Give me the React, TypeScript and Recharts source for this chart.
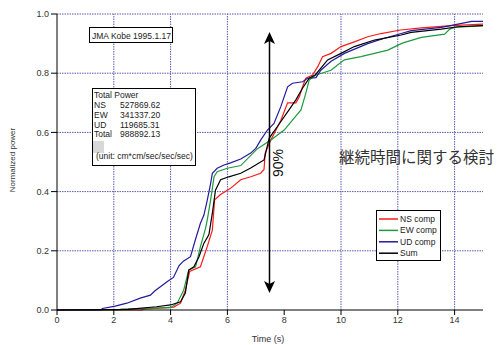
import React from 'react';
import { LineChart, Line, XAxis, YAxis, ReferenceLine } from 'recharts';

// Cumulative normalized power vs. time
const nsComp = [
  { t: 0, p: 0 }, { t: 3.0, p: 0 }, { t: 3.05, p: 0.003 }, { t: 4.11, p: 0.01 },
  { t: 4.35, p: 0.023 }, { t: 4.52, p: 0.067 }, { t: 4.67, p: 0.13 }, { t: 5.05, p: 0.146 },
  { t: 5.29, p: 0.214 }, { t: 5.47, p: 0.27 }, { t: 5.55, p: 0.372 }, { t: 5.76, p: 0.39 },
  { t: 6.11, p: 0.411 }, { t: 6.47, p: 0.44 }, { t: 6.82, p: 0.45 }, { t: 7.17, p: 0.462 },
  { t: 7.29, p: 0.475 }, { t: 7.33, p: 0.53 }, { t: 7.53, p: 0.574 }, { t: 7.88, p: 0.64 },
  { t: 8.12, p: 0.7 }, { t: 8.41, p: 0.7 }, { t: 8.53, p: 0.72 }, { t: 8.65, p: 0.755 },
  { t: 8.76, p: 0.783 }, { t: 9.0, p: 0.794 }, { t: 9.18, p: 0.822 }, { t: 9.35, p: 0.856 },
  { t: 9.65, p: 0.867 }, { t: 10.0, p: 0.89 }, { t: 10.47, p: 0.906 }, { t: 10.94, p: 0.923 },
  { t: 11.41, p: 0.934 }, { t: 12.1, p: 0.946 }, { t: 12.83, p: 0.953 }, { t: 13.9, p: 0.961 },
  { t: 15, p: 0.966 },
];

const ewComp = [
  { t: 0, p: 0 }, { t: 2.2, p: 0 }, { t: 2.25, p: 0.003 }, { t: 4.0, p: 0.008 },
  { t: 4.23, p: 0.023 }, { t: 4.46, p: 0.067 }, { t: 4.64, p: 0.135 }, { t: 4.88, p: 0.146 },
  { t: 5.05, p: 0.214 }, { t: 5.23, p: 0.276 }, { t: 5.29, p: 0.304 }, { t: 5.41, p: 0.372 },
  { t: 5.53, p: 0.45 }, { t: 5.64, p: 0.467 }, { t: 6.0, p: 0.479 }, { t: 6.47, p: 0.488 },
  { t: 7.06, p: 0.545 }, { t: 7.53, p: 0.574 }, { t: 8.0, p: 0.608 }, { t: 8.35, p: 0.648 },
  { t: 8.59, p: 0.676 }, { t: 8.76, p: 0.732 }, { t: 8.88, p: 0.777 }, { t: 9.12, p: 0.794 },
  { t: 9.65, p: 0.81 }, { t: 9.88, p: 0.828 }, { t: 10.12, p: 0.845 }, { t: 10.7, p: 0.856 },
  { t: 11.18, p: 0.867 }, { t: 11.65, p: 0.878 }, { t: 12.12, p: 0.9 }, { t: 12.24, p: 0.904 },
  { t: 12.83, p: 0.921 }, { t: 13.65, p: 0.932 }, { t: 13.83, p: 0.949 }, { t: 14.0, p: 0.955 },
  { t: 15, p: 0.961 },
];

const udComp = [
  { t: 0, p: 0 }, { t: 1.55, p: 0 }, { t: 1.6, p: 0.005 }, { t: 2.05, p: 0.013 },
  { t: 2.46, p: 0.023 }, { t: 2.93, p: 0.04 }, { t: 3.29, p: 0.05 }, { t: 3.45, p: 0.065 },
  { t: 3.9, p: 0.097 }, { t: 4.1, p: 0.11 }, { t: 4.3, p: 0.15 }, { t: 4.45, p: 0.165 },
  { t: 4.7, p: 0.18 }, { t: 4.88, p: 0.24 }, { t: 5.05, p: 0.293 }, { t: 5.17, p: 0.32 },
  { t: 5.29, p: 0.37 }, { t: 5.41, p: 0.428 }, { t: 5.47, p: 0.462 }, { t: 5.64, p: 0.479 },
  { t: 5.88, p: 0.49 }, { t: 6.11, p: 0.497 }, { t: 6.47, p: 0.51 }, { t: 6.82, p: 0.53 },
  { t: 7.0, p: 0.546 }, { t: 7.17, p: 0.574 }, { t: 7.41, p: 0.608 }, { t: 7.64, p: 0.63 },
  { t: 7.88, p: 0.687 }, { t: 8.12, p: 0.754 }, { t: 8.29, p: 0.766 }, { t: 8.65, p: 0.771 },
  { t: 8.82, p: 0.783 }, { t: 9.12, p: 0.785 }, { t: 9.29, p: 0.81 }, { t: 9.65, p: 0.84 },
  { t: 10.12, p: 0.867 }, { t: 10.94, p: 0.9 }, { t: 11.53, p: 0.918 }, { t: 12.12, p: 0.934 },
  { t: 12.47, p: 0.944 }, { t: 13.53, p: 0.955 }, { t: 14.12, p: 0.966 }, { t: 14.6, p: 0.975 },
  { t: 15, p: 0.975 },
];

const sumComp = [
  { t: 0, p: 0 }, { t: 2.5, p: 0.002 }, { t: 3.5, p: 0.011 }, { t: 4.0, p: 0.017 },
  { t: 4.35, p: 0.028 }, { t: 4.52, p: 0.057 }, { t: 4.64, p: 0.135 }, { t: 4.82, p: 0.146 },
  { t: 5.0, p: 0.18 }, { t: 5.17, p: 0.225 }, { t: 5.35, p: 0.255 }, { t: 5.47, p: 0.327 },
  { t: 5.58, p: 0.405 }, { t: 5.76, p: 0.44 }, { t: 6.05, p: 0.45 }, { t: 6.47, p: 0.462 },
  { t: 6.82, p: 0.48 }, { t: 7.17, p: 0.5 }, { t: 7.29, p: 0.507 }, { t: 7.47, p: 0.58 },
  { t: 7.76, p: 0.62 }, { t: 8.17, p: 0.676 }, { t: 8.41, p: 0.71 }, { t: 8.65, p: 0.75 },
  { t: 8.88, p: 0.783 }, { t: 9.1, p: 0.795 }, { t: 9.53, p: 0.845 }, { t: 10.0, p: 0.867 },
  { t: 10.47, p: 0.89 }, { t: 11.18, p: 0.912 }, { t: 12.12, p: 0.929 }, { t: 12.47, p: 0.938 },
  { t: 13.53, p: 0.949 }, { t: 14.12, p: 0.957 }, { t: 15, p: 0.961 },
];

const timeTicks = [0, 2, 4, 6, 8, 10, 12, 14];
const powerTicks = [0, 0.2, 0.4, 0.6, 0.8, 1.0];
const gridTimes = [2, 4, 6, 10, 12, 14];
const gridPowers = [0.2, 0.4, 0.6, 0.8, 1.0];

const powerRows = [
  { label: 'NS', value: '527869.62' },
  { label: 'EW', value: '341337.20' },
  { label: 'UD', value: '119685.31' },
  { label: 'Total', value: '988892.13' },
];

const FONT = '"Liberation Sans", Arial, sans-serif';
const GRID = '#5a5ab4';

const series = [
  { name: 'NS comp', data: nsComp, color: '#ff1a1a' },
  { name: 'EW comp', data: ewComp, color: '#1f9a3c' },
  { name: 'UD comp', data: udComp, color: '#241a9c' },
  { name: 'Sum', data: sumComp, color: '#000000' },
];

export default function App() {
  return (
    <div style={{ position: 'absolute', left: 0, top: 0, width: 504, height: 345, background: '#fff' }}>
      <LineChart width={504} height={345} margin={{ top: 14, right: 21, bottom: 0, left: 12 }}>
        <XAxis
          type="number"
          dataKey="t"
          domain={[0, 15]}
          ticks={timeTicks}
          allowDataOverflow
          height={35}
          stroke="#000"
          tickSize={5}
          tick={{ fontSize: 9, fill: '#333', fontFamily: FONT }}
        />
        <YAxis
          type="number"
          dataKey="p"
          domain={[0, 1]}
          ticks={powerTicks}
          width={45}
          stroke="#000"
          tickSize={6}
          tickFormatter={(v: number) => v.toFixed(1)}
          tick={{ fontSize: 9, fill: '#333', fontFamily: FONT }}
        />
        {gridTimes.map((t) => (
          <ReferenceLine key={'vx' + t} x={t} stroke={GRID} strokeDasharray="1.5 1" strokeWidth={1} />
        ))}
        {gridPowers.map((p) => (
          <ReferenceLine key={'hy' + p} y={p} stroke={GRID} strokeDasharray="1.5 1" strokeWidth={1} />
        ))}
        {series.map((s) => (
          <Line
            key={s.name}
            data={s.data}
            dataKey="p"
            name={s.name}
            type="linear"
            stroke={s.color}
            strokeWidth={1.2}
            dot={false}
            isAnimationActive={false}
          />
        ))}
      </LineChart>
      <svg
        width={504}
        height={345}
        style={{ position: 'absolute', left: 0, top: 0, pointerEvents: 'none' }}
        fontFamily={FONT}
      >
        {/* axis titles */}
        <text x={268} y={342} textAnchor="middle" fontSize={9} fill="#333">Time (s)</text>
        <text x={15} y={160} textAnchor="middle" fontSize={8} fill="#333" transform="rotate(-90 15 160)">
          Normalized power
        </text>

        {/* station label */}
        <rect x={89.5} y={27.5} width={83} height={15} fill="#fff" stroke="#000" />
        <text x={92} y={38.5} fontSize={8.5} fill="#222">JMA Kobe 1995.1.17</text>

        {/* total power box */}
        <rect x={92.5} y={88.5} width={103} height={77} fill="#fff" stroke="#000" />
        <text x={94} y={98} fontSize={8.5} fill="#222">Total Power</text>
        {powerRows.map((r, i) => (
          <g key={r.label}>
            <text x={94} y={108 + i * 9.8} fontSize={8.5} fill="#222">{r.label}</text>
            <text x={120} y={108 + i * 9.8} fontSize={8.5} fill="#222">{r.value}</text>
          </g>
        ))}
        <rect x={93} y={141} width={11} height={12} fill="#d8d8d8" />
        <text x={96} y={159} fontSize={8.5} fill="#222">(unit: cm*cm/sec/sec/sec)</text>

        {/* 90% duration arrow */}
        <line x1={269.5} y1={40} x2={269.5} y2={284} stroke="#000" strokeWidth={1.5} />
        <polygon points="269.5,32 264,44 269.5,41 275,44" fill="#000" />
        <polygon points="269.5,293 264,281 269.5,284 275,281" fill="#000" />
        <text x={283} y={163} textAnchor="middle" fontSize={14} fill="#111" transform="rotate(-90 283 163)">
          90%
        </text>

        <text x={339} y={163} fontSize={15.5} fill="#333" fontFamily='"Noto Sans CJK JP", sans-serif'>
          継続時間に関する検討
        </text>

        {/* legend */}
        <rect x={376.5} y={210.5} width={64} height={50} fill="#fff" stroke="#000" />
        {series.map((s, i) => (
          <g key={s.name}>
            <line x1={379} y1={219 + i * 11.4} x2={398} y2={219 + i * 11.4} stroke={s.color} strokeWidth={1.5} />
            <text x={400} y={222 + i * 11.4} fontSize={8.5} fill="#222">{s.name}</text>
          </g>
        ))}
      </svg>
    </div>
  );
}
